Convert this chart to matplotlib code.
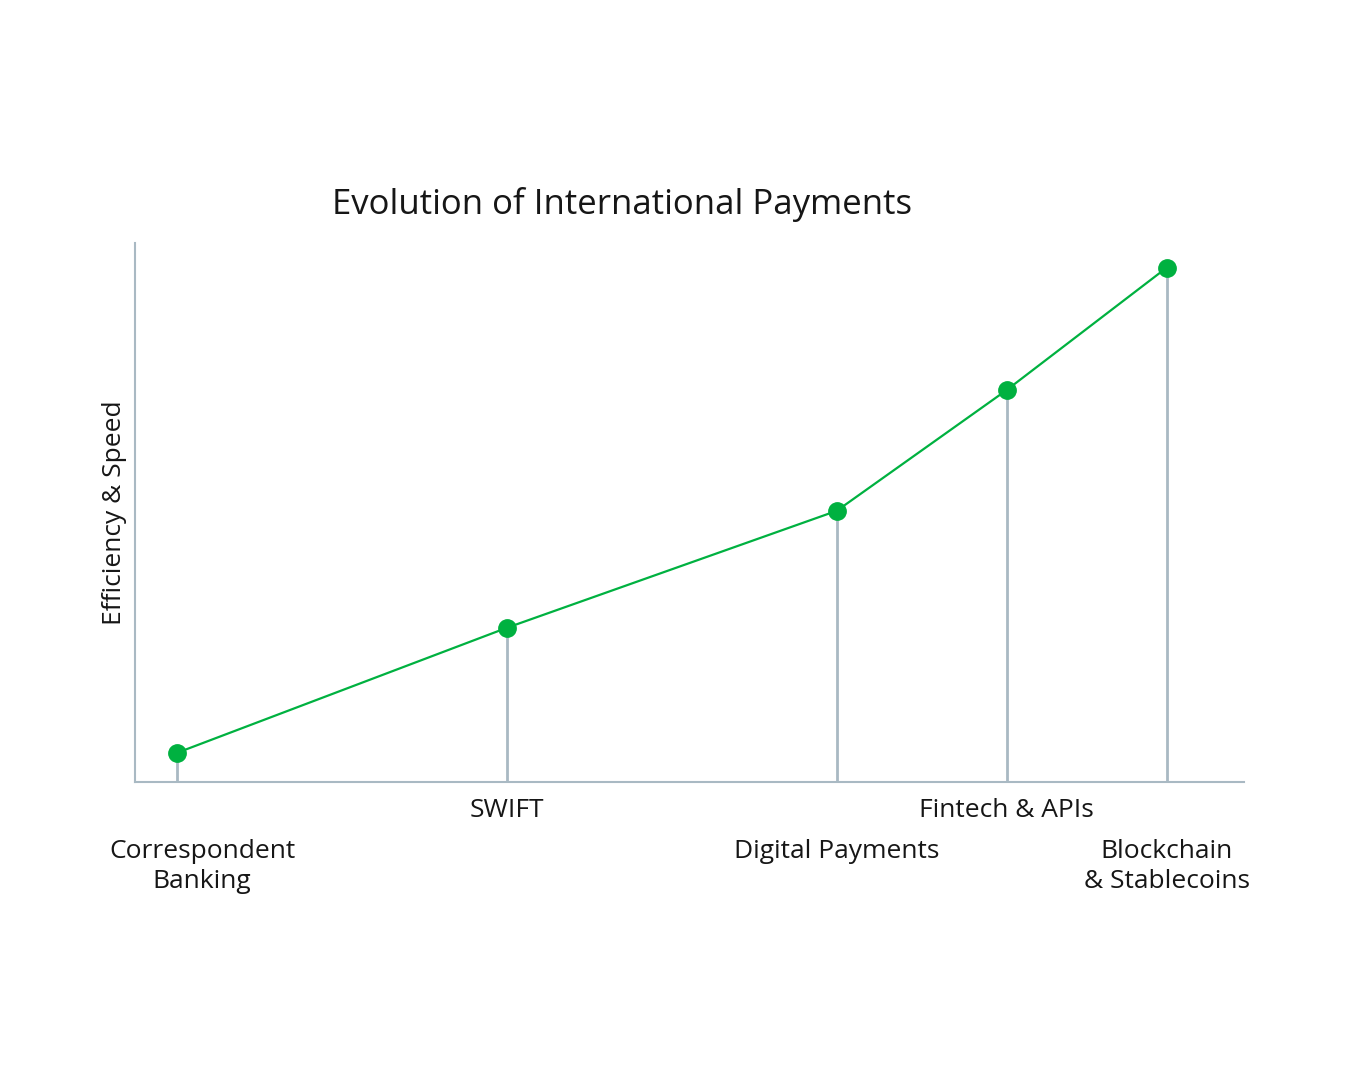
import matplotlib.pyplot as plt

# Milestones in international payments (approximate era / relative efficiency)
stages = ["Correspondent\nBanking", "SWIFT", "Digital Payments", "Fintech & APIs", "Blockchain\n& Stablecoins"]
years = [1960, 1980, 2000, 2010.3, 2020]
efficiency = [5.4, 28.6, 50.3, 72.7, 95.4]
# labels alternate between a high and a low row
low_row = [True, False, True, False, True]

GREEN = "#00b140"
STEM = "#a9b9c3"
TEXT = "#161616"

plt.rcParams["font.family"] = ["Open Sans", "DejaVu Sans"]

fig = plt.figure(figsize=(13.5, 10.8), dpi=100)
ax = fig.add_axes([0.1, 0.276, 0.8215, 0.499])

ax.vlines(years, 0, efficiency, color=STEM, linewidth=2, zorder=1)
ax.plot(years, efficiency, color=GREEN, linewidth=1.6, marker="o", markersize=12.5, zorder=2)

ax.set_xlim(1957.45, 2024.7)
ax.set_ylim(0, 100)

for s in ["top", "right"]:
    ax.spines[s].set_visible(False)
for s in ["left", "bottom"]:
    ax.spines[s].set_color(STEM)
    ax.spines[s].set_linewidth(1.5)
ax.set_xticks([])
ax.set_yticks([])

for x, label, low in zip(years, stages, low_row):
    dx = 0
    if label.startswith("Correspondent"):
        dx = 18
    # baseline alignment uses the last line, so push multi-line labels down
    extra = label.count("\n") * 21.6
    dy = (-54.7 if low else -25.2) - extra
    ax.annotate(label, (x, 0), xytext=(dx, dy), textcoords="offset points",
                ha="center", va="baseline", fontsize=19,
                color=TEXT, linespacing=1.25, annotation_clip=False)

ax.set_ylabel("Efficiency & Speed", fontsize=19, color=TEXT, labelpad=6)
fig.text(0.461, 0.8105, "Evolution of International Payments", ha="center", va="center",
         fontsize=25, color=TEXT)

fig.savefig("out.png", dpi=100)
